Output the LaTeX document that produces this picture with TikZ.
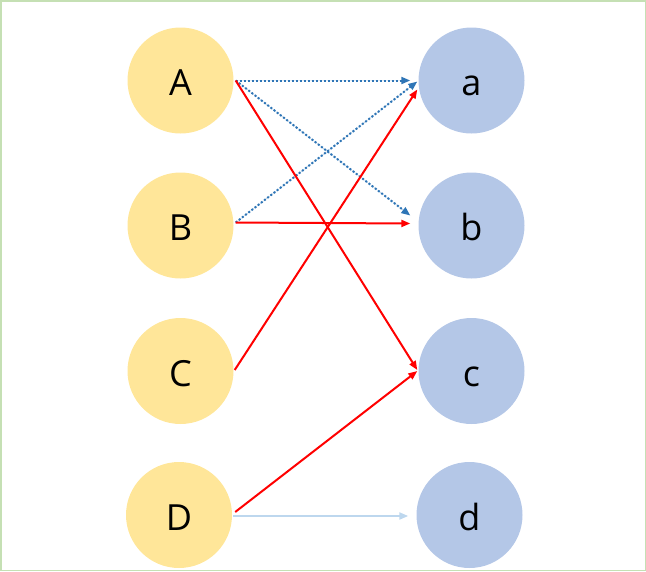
\documentclass[tikz,border=0pt]{standalone}
\usepackage{fontspec}
\setmainfont{Open Sans}
\usetikzlibrary{arrows.meta}
\definecolor{yel}{HTML}{FFE699}
\definecolor{blu}{HTML}{B4C7E7}
\definecolor{dotblue}{HTML}{2E75B6}
\definecolor{lightblu}{HTML}{BDD7EE}
\definecolor{frame}{HTML}{C5E0B4}
\begin{document}
\begin{tikzpicture}[x=1pt,y=-1pt,
  ball/.style={circle,minimum size=106pt,inner sep=0pt,text height=30pt,text depth=0pt,font=\fontsize{36}{40}\selectfont},
  leftnode/.style={ball,fill=yel},
  rightnode/.style={ball,fill=blu},
  tip/.style={-{Triangle[length=9pt,width=7pt]}},
  redarrow/.style={tip,draw=red,fill=red,line width=2pt},
  dotarrow/.style={tip,draw=dotblue,fill=dotblue,line width=2pt,dash pattern=on 2pt off 2pt},
  palearrow/.style={tip,draw=lightblu,fill=lightblu,line width=2pt}]
\useasboundingbox (0,0) rectangle (646,571);
\draw[frame,line width=1.5pt] (0.75,0.75) rectangle (645.25,570.25);
\node[leftnode] (A) at (180.5,80.5) {A};
\node[leftnode] (B) at (180.5,225.5) {B};
\node[leftnode] (C) at (180.5,371) {C};
\node[leftnode] (D) at (179,515) {D};
\node[rightnode] (a) at (471.5,80.5) {a};
\node[rightnode] (b) at (471.5,225.5) {b};
\node[rightnode] (c) at (471.5,371) {c};
\node[rightnode] (d) at (469.5,515) {d};
% dotted blue
\draw[dotarrow] ([shift={(2,0)}]A.east) -- ([shift={(-8,0)}]a.west);
\draw[dotarrow] ([shift={(2,0)}]A.east) -- ([shift={(-8,-10)}]b.west);
\draw[dotarrow] ([shift={(2,-3)}]B.east) -- ([shift={(-1,1)}]a.west);
% red
\draw[redarrow] ([shift={(2,-3)}]B.east) -- ([shift={(-8,-2)}]b.west);
\draw[redarrow] ([shift={(2,0)}]A.east) -- ([shift={(-1,-1)}]c.west);
\draw[redarrow] ([shift={(1,-1)}]C.east) -- ([shift={(-1,9)}]a.west);
\draw[redarrow] ([shift={(3,-3)}]D.east) -- ([shift={(-1,0)}]c.west);
% pale
\draw[palearrow] ([shift={(1,1)}]D.east) -- ([shift={(-8,1)}]d.west);
\end{tikzpicture}
\end{document}
